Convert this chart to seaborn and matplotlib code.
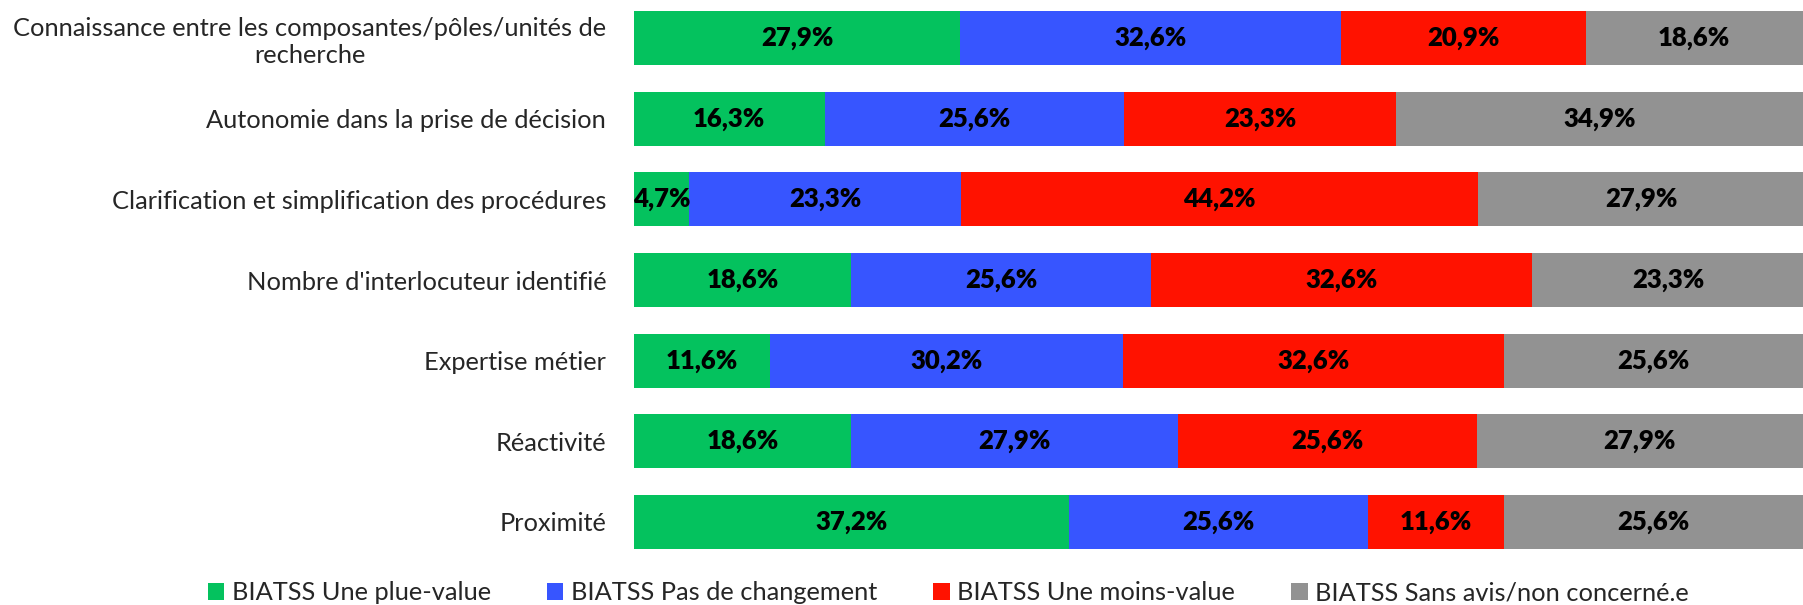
import numpy as np
import pandas as pd
import seaborn as sns
import matplotlib.pyplot as plt
from matplotlib.patches import Patch

# categories, top to bottom
categories = [
    "Connaissance entre les composantes/pôles/unités de\nrecherche",
    "Autonomie dans la prise de décision",
    "Clarification et simplification des procédures",
    "Nombre d'interlocuteur identifié",
    "Expertise métier",
    "Réactivité",
    "Proximité",
]

series_names = [
    "BIATSS Une plue-value",
    "BIATSS Pas de changement",
    "BIATSS Une moins-value",
    "BIATSS Sans avis/non concerné.e",
]

plus_value = [27.9, 16.3, 4.7, 18.6, 11.6, 18.6, 37.2]
pas_changement = [32.6, 25.6, 23.3, 25.6, 30.2, 27.9, 25.6]
moins_value = [20.9, 23.3, 44.2, 32.6, 32.6, 25.6, 11.6]
sans_avis = [18.6, 34.9, 27.9, 23.3, 25.6, 27.9, 25.6]

colors = ["#04C25E", "#3755FF", "#FF1200", "#929292"]

sns.set_theme(style="white")
plt.rcParams["font.family"] = ["Lato", "DejaVu Sans"]

df = pd.DataFrame({"cat": categories})
series = [plus_value, pas_changement, moins_value, sans_avis]
cum = np.cumsum(np.array(series), axis=0)

fig = plt.figure(figsize=(18.03, 6.05), dpi=100)
ax = fig.add_axes([634 / 1803, 43 / 605, 1 - 634 / 1803, 564 / 605])

# stacked bars: draw cumulative totals from the last series back to the first
for i in range(len(series) - 1, -1, -1):
    df["val"] = cum[i]
    sns.barplot(data=df, x="val", y="cat", order=categories, color=colors[i],
                orient="h", width=0.67, linewidth=0, saturation=1, ax=ax)

# value labels centred in each segment
for i, vals in enumerate(series):
    for j, v in enumerate(vals):
        center = cum[i][j] - v / 2
        ax.text(center, j, f"{v:.1f}%".replace(".", ","), ha="center", va="center",
                fontsize=18.5, fontweight="heavy", color="black")

ax.set_xlim(0, 100)
ax.set_xlabel("")
ax.set_ylabel("")
ax.set_xticks([])
ax.tick_params(axis="y", length=0, pad=20, labelsize=18.3)
for lbl in ax.get_yticklabels():
    lbl.set_multialignment("center")
sns.despine(ax=ax, left=True, bottom=True)

handles = [Patch(facecolor=c, edgecolor="none") for c in colors]
fig.legend(handles, series_names, loc="center", bbox_to_anchor=(0.526, 12 / 605),
           ncol=4, frameon=False, fontsize=18.3, handlelength=0.65, handleheight=0.65,
           handletextpad=0.3, columnspacing=2.2)

fig.savefig("out.png", dpi=100)
